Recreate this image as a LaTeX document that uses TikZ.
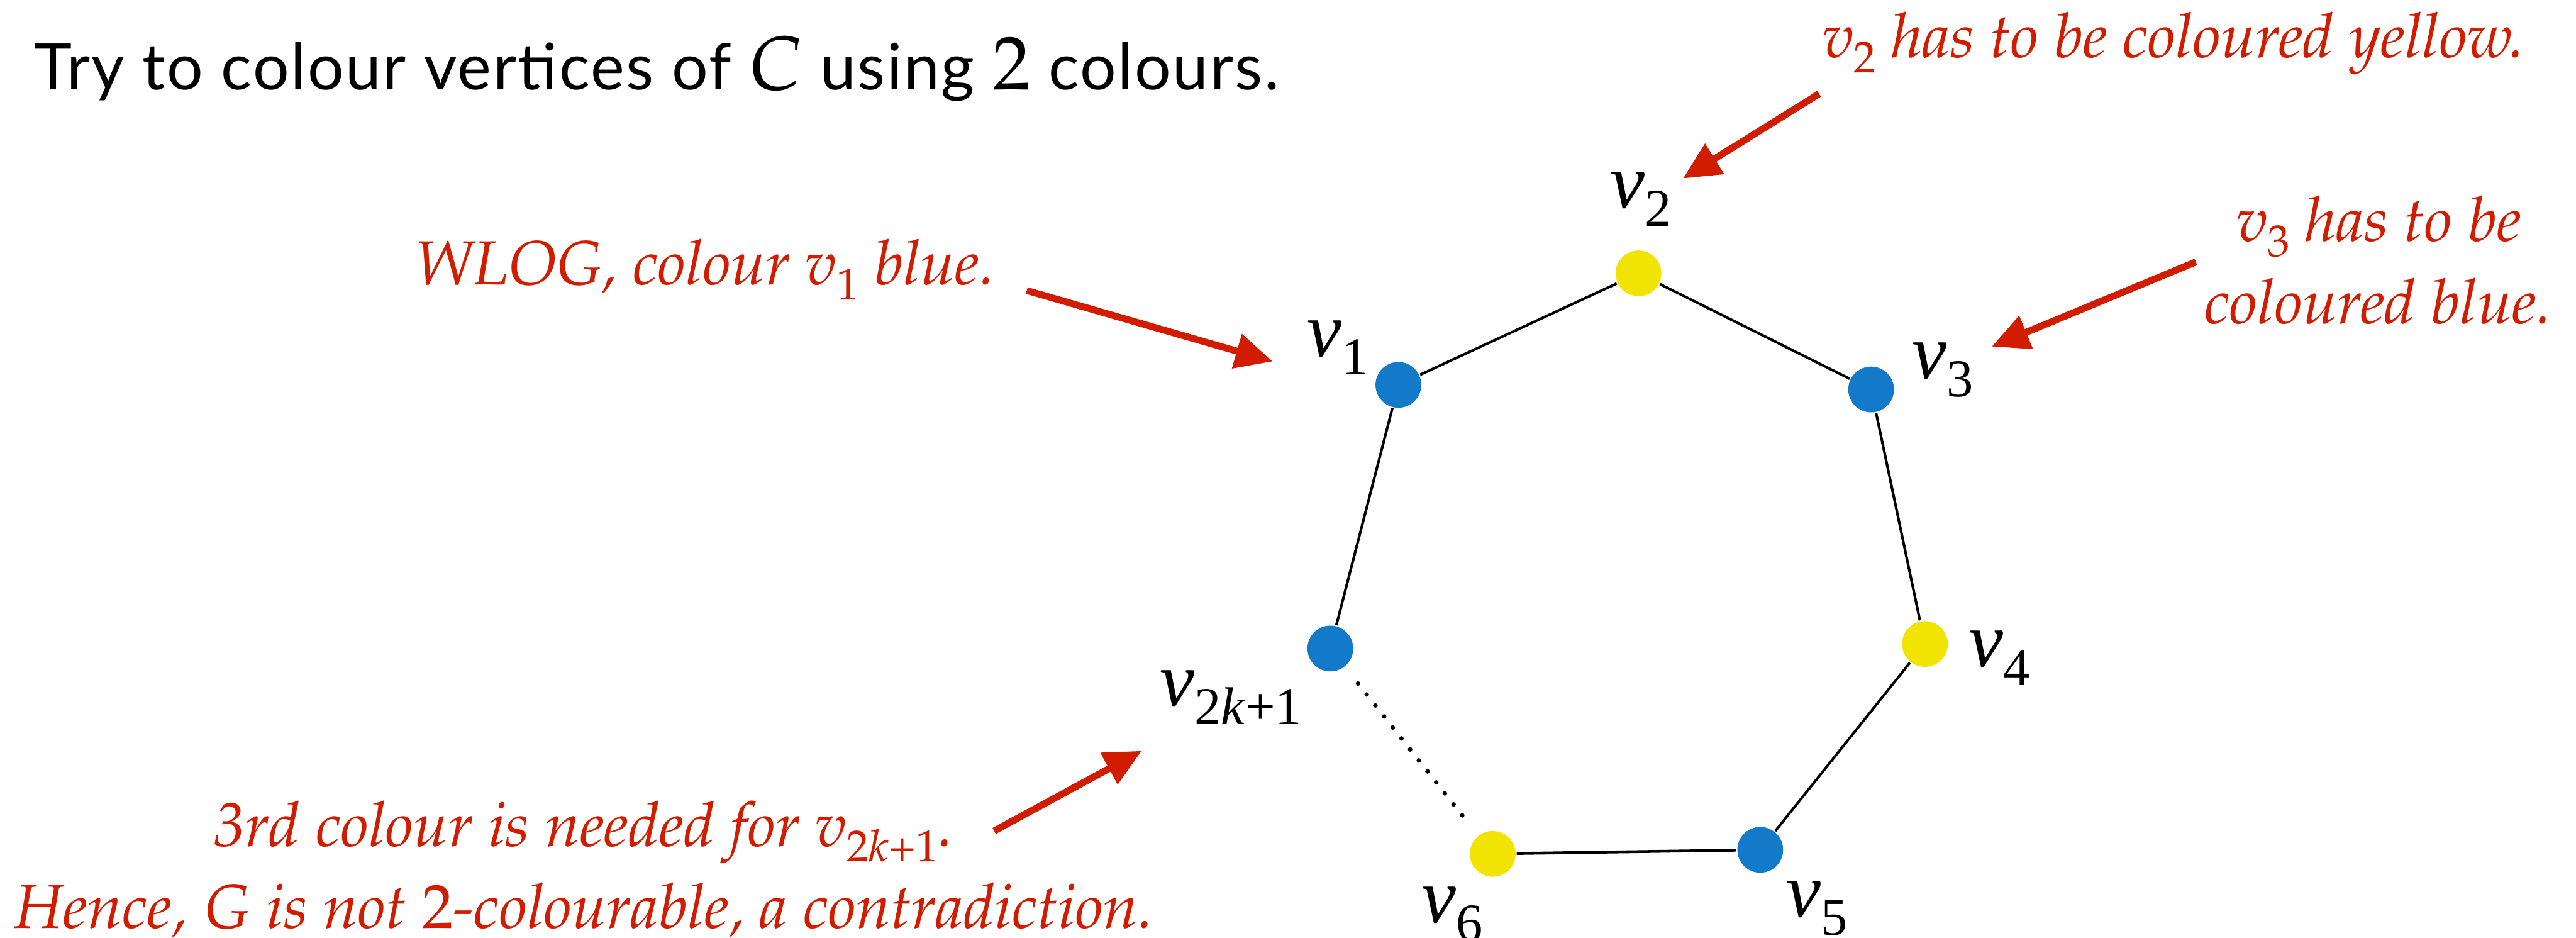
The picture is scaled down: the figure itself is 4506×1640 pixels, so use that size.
\documentclass[tikz,border=0pt]{standalone}
\usepackage[T1]{fontenc}
\usepackage{mathpazo}
\usepackage[no-math]{fontspec}
\newfontfamily\titlefont[LetterSpace=2.5]{Lato}
\newfontfamily\labfont{Liberation Serif}
\usetikzlibrary{arrows.meta}
\definecolor{vblue}{RGB}{19,122,202}
\definecolor{vyellow}{RGB}{240,228,0}
\definecolor{vred}{RGB}{210,28,0}
\newcommand\palit{\fontencoding{T1}\fontfamily{ppl}\fontshape{it}\selectfont}
\newcommand\vl[1]{\textit{v}\raisebox{-3.2pt}{\fontsize{9.3}{10}\selectfont #1}}
\newcommand\rv[1]{v\raisebox{-2.6pt}{\fontsize{7.8}{8}\fontshape{n}\selectfont #1}}
\tikzset{
  vtx/.style={circle, inner sep=0pt, minimum size=8pt},
  bluev/.style={vtx, fill=vblue},
  yelv/.style={vtx, fill=vyellow},
  lab/.style={anchor=base west, inner sep=0pt, font=\labfont\fontsize{13.6}{14}\selectfont},
  note/.style={anchor=base, inner sep=0pt, text=vred, font=\palit\fontsize{10.9}{12}\selectfont},
  edge/.style={line width=0.45pt},
  pointer/.style={draw=vred, line width=1.2pt, -{Triangle[length=6.5pt, width=6pt]}},
}
\begin{document}
\begin{tikzpicture}[x=0.1pt, y=-0.1pt]
\useasboundingbox (0,0) rectangle (4506,1640);
% title
\node[anchor=base west, inner sep=0pt, font=\titlefont\fontsize{11.2}{13}\selectfont] (title) at (58,157)
  {Try to colour vertices of {\fontsize{13.3}{13}\selectfont$C$} using {\fontsize{13.3}{13}\selectfont$2$} colours.};
% vertices
\node[bluev] (v1) at (2446,673) {};
\node[yelv]  (v2) at (2866,478) {};
\node[bluev] (v3) at (3273,681) {};
\node[yelv]  (v4) at (3367,1126) {};
\node[bluev] (v5) at (3079,1486) {};
\node[yelv]  (v6) at (2611,1493) {};
\node[bluev] (vk) at (2327,1134) {};
% edges
\draw[edge] (vk) -- (v1);
\draw[edge] (v1) -- (v2);
\draw[edge] (v2) -- (v3);
\draw[edge] (v3) -- (v4);
\draw[edge] (v4) -- (v5);
\draw[line width=0.5pt] (v5) -- (v6);
\draw[line width=0.8pt, line cap=round, dash pattern=on 0pt off 2.45pt, shorten <=3.6pt, shorten >=2.8pt] (vk) -- (v6);
% labels
\node[lab] (l1) at (2285,623) {\vl{1}};
\node[lab] (l2) at (2815,363) {\vl{2}};
\node[lab] (l3) at (3343,662) {\vl{3}};
\node[lab] (l4) at (3442,1166) {\vl{4}};
\node[lab] (l5) at (3123,1603) {\vl{5}};
\node[lab] (l6) at (2485,1613) {\vl{6}};
\node[lab] (lk) at (2027,1235) {\vl{2\textit{k}+1}};
% red notes
\node[note] (t2) at (3802,101) {\rv{2} has to be coloured yellow.};
\node[note] (t3a) at (4161,422) {\rv{3} has to be};
\node[note] (t3b) at (4160,566) {coloured blue.};
\node[note] (t1) at (1233,498) {WLOG, colour \rv{1} blue.};
\node[note] (t4) at (1021,1480) {3rd colour is needed for \rv{2{\fontshape{it}\selectfont k}+1}.};
\node[note] (t5) at (1022,1623) {Hence, $G$ is not $2$-colourable, a contradiction.};
% arrows
\coordinate (a2s) at (3182,164);  \coordinate (a2e) at (2944,312);
\coordinate (a3s) at (3841,458);  \coordinate (a3e) at (3484,606);
\coordinate (a1s) at (1796,508);  \coordinate (a1e) at (2226,632);
\coordinate (a4s) at (1739,1453); \coordinate (a4e) at (1997,1313);
\draw[pointer] (a2s) -- (a2e);
\draw[pointer] (a3s) -- (a3e);
\draw[pointer] (a1s) -- (a1e);
\draw[pointer] (a4s) -- (a4e);
\end{tikzpicture}
\end{document}
